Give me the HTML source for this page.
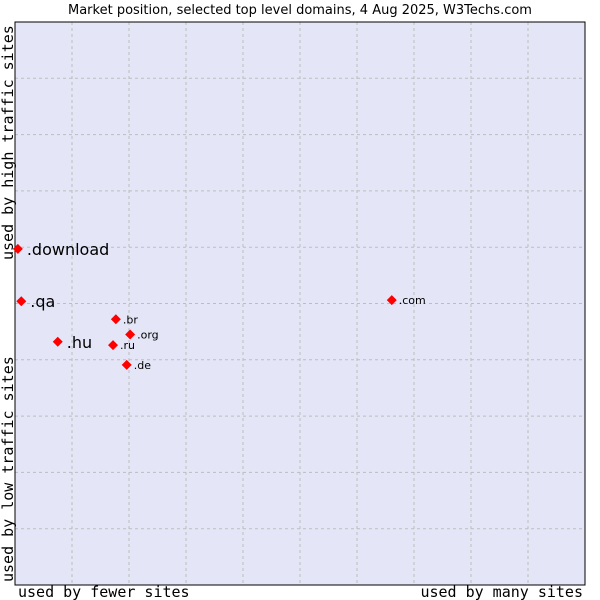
<!DOCTYPE html>
<html><head><meta charset="utf-8"><style>
body{margin:0;background:#fff;}
svg{display:block;}
</style></head><body>
<svg width="600" height="600" viewBox="0 0 600 600" xmlns="http://www.w3.org/2000/svg">
<text x="300" y="14" text-anchor="middle" font-family="DejaVu Sans, sans-serif" font-size="13" fill="#000">Market position, selected top level domains, 4 Aug 2025, W3Techs.com</text>
<rect x="15" y="22" width="570" height="563" fill="#e4e6f8"/>
<g id="grid"></g>
<rect x="15" y="22" width="570" height="563" fill="none" stroke="#000" stroke-width="1"/>
<g id="pts"></g>
<text x="18" y="597" font-family="DejaVu Sans Mono, monospace" font-size="15">used by fewer sites</text>
<text x="583" y="597" text-anchor="end" font-family="DejaVu Sans Mono, monospace" font-size="15">used by many sites</text>
<text transform="translate(13,582) rotate(-90)" font-family="DejaVu Sans Mono, monospace" font-size="15">used by low traffic sites</text>
<text transform="translate(13,260) rotate(-90)" font-family="DejaVu Sans Mono, monospace" font-size="15">used by high traffic sites</text>
</svg>
<script>
const labels=[".download",".qa",".hu",".br",".org",".ru",".de",".com"];
const xVals=[0.5,1.1,7.5,17.7,20.2,17.2,19.6,66.1];
const yVals=[59.7,50.4,43.2,47.2,44.5,42.6,39.1,50.6];
const bigLabel=[true,true,true,false,false,false,false,false];
const NS="http://www.w3.org/2000/svg";
const X0=15,W=570,Y0=22,H=563;
const sx=v=>X0+v/100*W, sy=v=>Y0+H-v/100*H;
const grid=document.getElementById('grid');
for(let i=1;i<10;i++){
  const v=document.createElementNS(NS,'line');
  v.setAttribute('x1',sx(i*10));v.setAttribute('x2',sx(i*10));v.setAttribute('y1',Y0);v.setAttribute('y2',Y0+H);
  v.setAttribute('stroke','#bdbdbd');v.setAttribute('stroke-dasharray','3,3');
  
  
  grid.appendChild(v);
  const h=document.createElementNS(NS,'line');
  h.setAttribute('y1',sy(i*10));h.setAttribute('y2',sy(i*10));h.setAttribute('x1',X0);h.setAttribute('x2',X0+W);
  h.setAttribute('stroke','#bdbdbd');h.setAttribute('stroke-dasharray','3,3');
  
  
  grid.appendChild(h);
}
const pts=document.getElementById('pts');
labels.forEach((l,i)=>{
  const x=sx(xVals[i]),y=sy(yVals[i]);
  const d=document.createElementNS(NS,'polygon');
  d.setAttribute('points',`${x},${y-5} ${x+5},${y} ${x},${y+5} ${x-5},${y}`);
  d.setAttribute('fill','#f00');
  
  
  pts.appendChild(d);
  const t=document.createElementNS(NS,'text');
  t.setAttribute('x',x+(bigLabel[i]?9:7));
  t.setAttribute('y',y+(bigLabel[i]?6:4));
  t.setAttribute('font-family','DejaVu Sans, sans-serif');
  t.setAttribute('font-size',bigLabel[i]?'16':'11');
  t.textContent=l;
  
  
  pts.appendChild(t);
});
</script>
</body></html>
